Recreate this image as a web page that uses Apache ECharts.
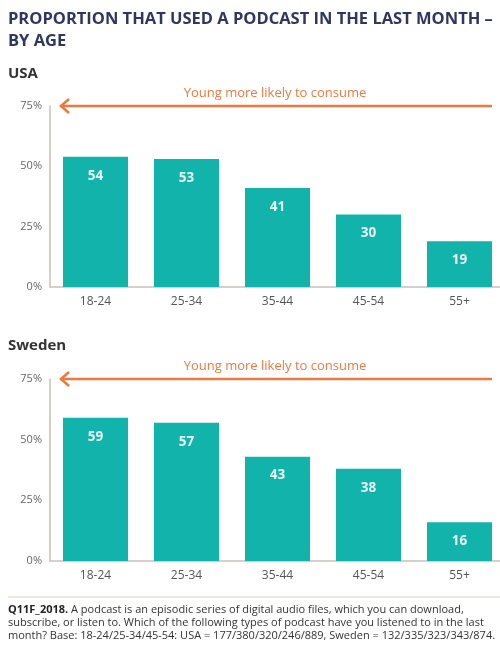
<!DOCTYPE html>
<html>
<head>
<meta charset="utf-8">
<script src="https://cdn.jsdelivr.net/npm/echarts@6/dist/echarts.min.js"></script>
<style>
  html, body { margin: 0; padding: 0; background: #fff; }
  #chart { width: 500px; height: 651px; }
</style>
</head>
<body>
<div id="chart"></div>
<script>
  // data
  var ageGroups = ['18-24', '25-34', '35-44', '45-54', '55+'];
  var usaValues = [54, 53, 41, 30, 19];
  var swedenValues = [59, 57, 43, 38, 16];
  var yTicks = [0, 25, 50, 75];

  var teal = '#12b3ab';
  var orange = '#ec7a3e';
  var axisGrey = '#c9c1bd';
  var font = 'Open Sans';

  function xAxis(idx) {
    return {
      type: 'category',
      gridIndex: idx,
      data: ageGroups,
      axisLine: { lineStyle: { color: axisGrey, width: 1.5 } },
      axisTick: { show: false },
      axisLabel: { color: '#555', fontSize: 12, fontFamily: font, margin: 9 }
    };
  }

  function yAxis(idx) {
    return {
      type: 'value',
      gridIndex: idx,
      min: yTicks[0],
      max: yTicks[yTicks.length - 1],
      interval: 25,
      axisLine: { show: true, lineStyle: { color: axisGrey, width: 1.5 } },
      axisTick: { show: false },
      splitLine: { show: false },
      axisLabel: { color: '#666', fontSize: 11, fontFamily: font, margin: 8, formatter: '{value}%' }
    };
  }

  function barSeries(idx, values) {
    return {
      type: 'bar',
      xAxisIndex: idx,
      yAxisIndex: idx,
      data: values,
      barWidth: 65,
      itemStyle: { color: teal },
      label: {
        show: true,
        position: 'insideTop',
        distance: 12,
        color: '#eaf8f6',
        fontSize: 13.5,
        fontWeight: 'bold',
        fontFamily: font
      },
      silent: true,
      animation: false
    };
  }

  // orange arrow with open chevron head + caption
  function arrow(y) {
    return [
      {
        type: 'line',
        shape: { x1: 60, y1: y, x2: 492, y2: y },
        style: { stroke: orange, lineWidth: 2.5 }
      },
      {
        type: 'polyline',
        shape: { points: [[69, y - 7], [61, y], [69, y + 7]] },
        style: { stroke: orange, lineWidth: 2.5, fill: null }
      },
      {
        type: 'text',
        x: 275, y: y - 13,
        style: {
          text: 'Young more likely to consume', fill: orange, fontSize: 13,
          fontFamily: font, align: 'center', verticalAlign: 'middle'
        }
      }
    ];
  }

  var chart = echarts.init(document.getElementById('chart'));
  var option = {
    backgroundColor: '#fff',
    animation: false,
    grid: [
      { left: 50, width: 455, top: 106, height: 181, outerBoundsMode: 'none', containLabel: false },
      { left: 50, width: 455, top: 379, height: 182, outerBoundsMode: 'none', containLabel: false }
    ],
    xAxis: [xAxis(0), xAxis(1)],
    yAxis: [yAxis(0), yAxis(1)],
    series: [barSeries(0, usaValues), barSeries(1, swedenValues)],
    graphic: [
      {
        type: 'text', left: 8, top: 8,
        style: {
          text: 'PROPORTION THAT USED A PODCAST IN THE LAST MONTH –\nBY AGE',
          fill: '#2f3660', fontSize: 16.5, fontWeight: 'bold', fontFamily: font, lineHeight: 22
        }
      },
      {
        type: 'text', left: 8, top: 66,
        style: { text: 'USA', fill: '#333', fontSize: 15, fontWeight: 'bold', fontFamily: font }
      },
      {
        type: 'text', left: 8, top: 338,
        style: { text: 'Sweden', fill: '#333', fontSize: 15, fontWeight: 'bold', fontFamily: font }
      },
      {
        type: 'line',
        shape: { x1: 8, y1: 597, x2: 500, y2: 597 },
        style: { stroke: '#eadcd8', lineWidth: 1.5 }
      },
      {
        type: 'text', x: 8, y: 603,
        style: {
          text: '{b|Q11F_2018.} A podcast is an episodic series of digital audio files, which you can download,\n' +
            'subscribe, or listen to. Which of the following types of podcast have you listened to in the last\n' +
            'month? Base: 18-24/25-34/45-54: USA = 177/380/320/246/889, Sweden = 132/335/323/343/874.',
          fill: '#333', fontSize: 11, fontFamily: font, lineHeight: 13,
          rich: { b: { fontWeight: 'bold', fontSize: 11, fontFamily: font, fill: '#222' } }
        }
      }
    ].concat(arrow(106), arrow(379))
  };
  chart.setOption(option);
</script>
</body>
</html>
